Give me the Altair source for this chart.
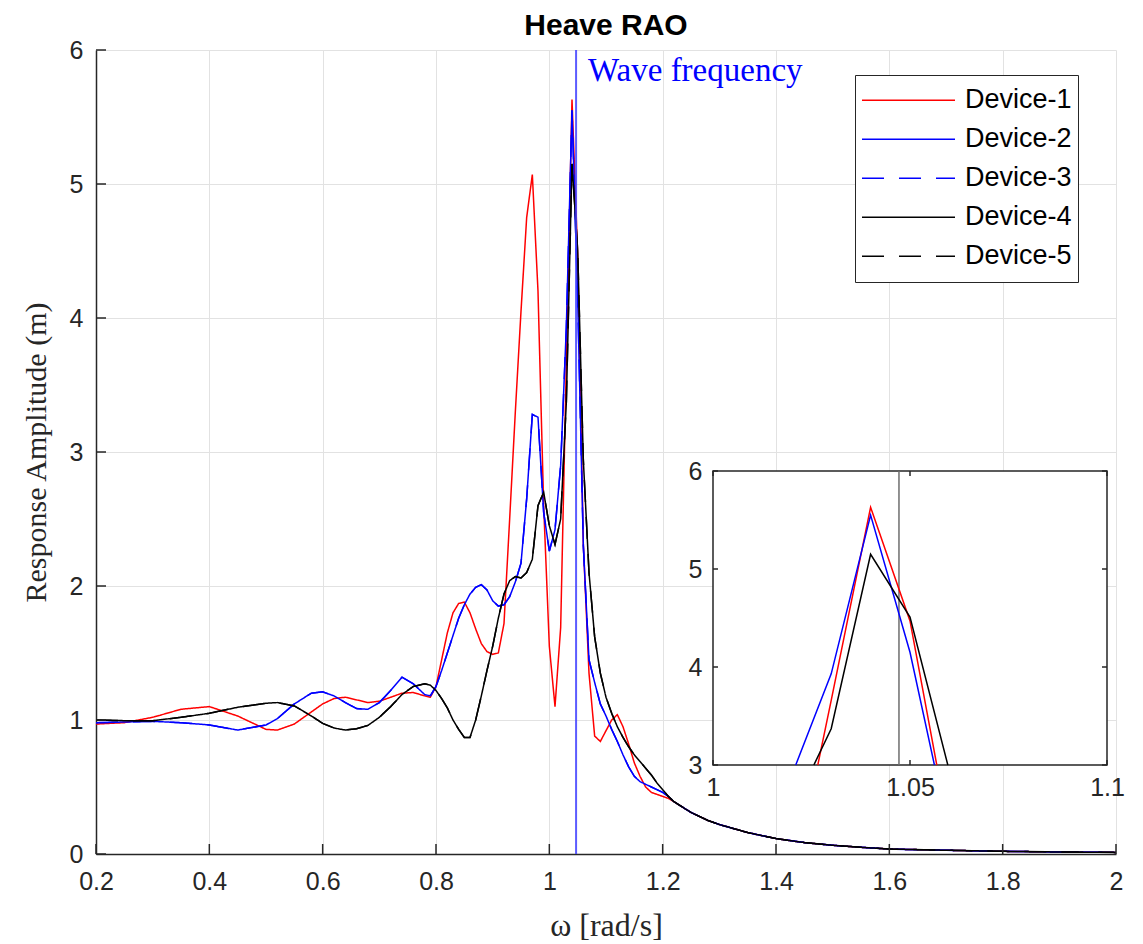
import altair as alt
import pandas as pd

# ---------------- data ----------------
freq = [0.20, 0.25, 0.30, 0.35, 0.40, 0.45, 0.50, 0.52, 0.55, 0.58,
        0.60, 0.62, 0.64, 0.66, 0.68, 0.70, 0.72, 0.74, 0.76, 0.78,
        0.79, 0.80, 0.81, 0.82, 0.83, 0.84, 0.85, 0.86, 0.87, 0.88,
        0.89, 0.90, 0.91, 0.92, 0.93, 0.94, 0.95, 0.96, 0.97, 0.98,
        0.99, 1.00, 1.01, 1.02, 1.03, 1.04, 1.05, 1.06, 1.07, 1.08,
        1.09, 1.10, 1.11, 1.12, 1.13, 1.14, 1.15, 1.16, 1.17, 1.18,
        1.19, 1.20, 1.21, 1.22, 1.25, 1.28, 1.30, 1.35, 1.40, 1.45,
        1.50, 1.55, 1.60, 1.70, 1.80, 1.90, 2.00]

tail = [0.31, 0.25, 0.22, 0.16, 0.115, 0.085, 0.065, 0.05, 0.037, 0.028, 0.02, 0.015, 0.012]

device1 = [0.97, 0.98, 1.02, 1.08, 1.10, 1.03, 0.93, 0.925, 0.97, 1.06,
           1.12, 1.16, 1.17, 1.15, 1.13, 1.14, 1.17, 1.20, 1.205, 1.18,
           1.17, 1.25, 1.45, 1.65, 1.80, 1.87, 1.88, 1.80, 1.68, 1.57,
           1.51, 1.49, 1.50, 1.72, 2.50, 3.30, 4.05, 4.75, 5.07, 4.20,
           2.60, 1.55, 1.10, 1.69, 3.66, 5.63, 4.47, 2.31, 1.35, 0.88,
           0.84, 0.92, 1.00, 1.04, 0.95, 0.82, 0.68, 0.58, 0.50, 0.46,
           0.445, 0.43, 0.415, 0.39] + tail

device2 = [0.98, 0.985, 0.99, 0.98, 0.963, 0.925, 0.963, 1.01, 1.12, 1.20,
           1.21, 1.18, 1.13, 1.085, 1.08, 1.13, 1.22, 1.32, 1.27, 1.19,
           1.18, 1.25, 1.37, 1.50, 1.63, 1.76, 1.86, 1.94, 1.99, 2.01,
           1.97, 1.89, 1.85, 1.86, 1.92, 2.03, 2.17, 2.65, 3.28, 3.26,
           2.55, 2.26, 2.42, 2.90, 3.93, 5.55, 4.15, 2.30, 1.45, 1.28,
           1.12, 1.03, 0.93, 0.84, 0.74, 0.65, 0.58, 0.54, 0.52, 0.50,
           0.48, 0.46, 0.43, 0.39] + tail

device3 = list(device2)   # dashed curve drawn on top of Device-2

device4 = [1.00, 0.995, 0.995, 1.02, 1.05, 1.095, 1.125, 1.13, 1.105, 1.03,
           0.975, 0.94, 0.925, 0.935, 0.96, 1.02, 1.10, 1.19, 1.25, 1.27,
           1.26, 1.22, 1.16, 1.09, 1.00, 0.93, 0.87, 0.87, 1.00, 1.18,
           1.37, 1.55, 1.76, 1.94, 2.04, 2.07, 2.06, 2.10, 2.20, 2.60,
           2.70, 2.45, 2.31, 2.50, 3.37, 5.15, 4.51, 2.94, 2.10, 1.62,
           1.35, 1.17, 1.05, 0.95, 0.87, 0.80, 0.74, 0.69, 0.64, 0.59,
           0.53, 0.48, 0.43, 0.39] + tail

device5 = list(device4)   # dashed curve drawn on top of Device-4

devices = ["Device-1", "Device-2", "Device-3", "Device-4", "Device-5"]
dev_colors = ["#ff0000", "#0000ff", "#0000ff", "#000000", "#000000"]
dev_dash = [[1, 0], [1, 0], [22, 15], [1, 0], [22, 15]]

wave_freq = 1.0472

# inset (zoom of the peak)
inset_x1 = [1.0266, 1.03, 1.04, 1.05, 1.0568]
inset_y1 = [3.0, 3.66, 5.63, 4.47, 3.0]
inset_x2 = [1.021, 1.03, 1.04, 1.05, 1.0562]
inset_y2 = [3.0, 3.93, 5.55, 4.15, 3.0]
inset_x4 = [1.0256, 1.03, 1.04, 1.05, 1.0596]
inset_y4 = [3.0, 3.37, 5.15, 4.51, 3.0]

x_ticks = [0.2, 0.4, 0.6, 0.8, 1.0, 1.2, 1.4, 1.6, 1.8, 2.0]
y_ticks = [0, 1, 2, 3, 4, 5, 6]
inset_x_ticks = [1.0, 1.05, 1.1]
inset_y_ticks = [3, 4, 5, 6]

# ---------------- tables ----------------
rows = []
for name, vals in zip(devices, [device1, device2, device3, device4, device5]):
    for f, v in zip(freq, vals):
        rows.append({"w": f, "amp": v, "device": name})
df = pd.DataFrame(rows)

irows = []
for name, xs, ys in [("Device-1", inset_x1, inset_y1), ("Device-2", inset_x2, inset_y2),
                     ("Device-4", inset_x4, inset_y4)]:
    for a, b in zip(xs, ys):
        irows.append({"w": a, "amp": b, "device": name})
idf = pd.DataFrame(irows)

W, H = 1020, 804
AX = "#262626"
SANS = "Liberation Sans"
SERIF = "Liberation Serif"
LBL = 25

xs_main = alt.Scale(domain=[0.2, 2.0], nice=False, zero=False)
ys_main = alt.Scale(domain=[0, 6], nice=False)

xaxis = alt.Axis(values=x_ticks, format="~g", title="ω [rad/s]", titleFont=SERIF,
                 titleFontSize=32, titleFontWeight="normal", titleColor=AX,
                 labelFont=SANS, labelFontSize=LBL, labelColor=AX, ticks=False,
                 labelFlush=False, labelOverlap=False,
                 domainColor=AX, domainWidth=1.5, gridColor="#e2e2e2", gridWidth=1,
                 labelPadding=15, titlePadding=16)
yaxis = alt.Axis(values=y_ticks, format="~g", title="Response Amplitude (m)", titleFont=SERIF,
                 titleFontSize=30, titleFontWeight="normal", titleColor=AX,
                 labelFont=SANS, labelFontSize=LBL, labelColor=AX, ticks=False,
                 labelFlush=False, labelOverlap=False,
                 domainColor=AX, domainWidth=1.5, gridColor="#e2e2e2", gridWidth=1,
                 labelPadding=13, titlePadding=18)

color_scale = alt.Scale(domain=devices, range=dev_colors)
dash_scale = alt.Scale(domain=devices, range=dev_dash)
legend = alt.Legend(title=None, orient="none", legendX=759, legendY=25,
                    symbolType="stroke", symbolSize=8649, symbolStrokeWidth=1.5,
                    clipHeight=38.5, rowPadding=0, labelFont=SANS, labelFontSize=27,
                    labelColor="black", labelOffset=9, padding=6, strokeColor=AX,
                    fillColor="white")

lines = alt.Chart(df).mark_line(strokeWidth=1.5).encode(
    x=alt.X("w:Q", scale=xs_main, axis=xaxis),
    y=alt.Y("amp:Q", scale=ys_main, axis=yaxis),
    color=alt.Color("device:N", scale=color_scale, legend=legend),
    strokeDash=alt.StrokeDash("device:N", scale=dash_scale, legend=legend),
)

wave_rule = alt.Chart(pd.DataFrame({"w": [wave_freq]})).mark_rule(
    color="#4040ff", strokeWidth=2, opacity=0.85
).encode(x=alt.X("w:Q", scale=xs_main, axis=xaxis))

wave_text = alt.Chart(pd.DataFrame({"w": [wave_freq], "amp": [6], "label": ["Wave frequency"]})).mark_text(
    align="left", baseline="middle", dx=12, dy=21, font=SERIF, fontSize=33, color="#0000ff"
).encode(x=alt.X("w:Q", scale=xs_main, axis=xaxis),
         y=alt.Y("amp:Q", scale=ys_main, axis=yaxis), text="label:N")

xt = alt.Chart(pd.DataFrame({"t": x_ticks, "b": [0] * len(x_ticks)})).mark_rule(
    color=AX, strokeWidth=1.5, y2Offset=-10
).encode(x=alt.X("t:Q", scale=xs_main, axis=xaxis),
         y=alt.Y("b:Q", scale=ys_main, axis=yaxis), y2="b:Q")

yt = alt.Chart(pd.DataFrame({"t": y_ticks, "b": [0.2] * len(y_ticks)})).mark_rule(
    color=AX, strokeWidth=1.5, x2Offset=10
).encode(y=alt.Y("t:Q", scale=ys_main, axis=yaxis),
         x=alt.X("b:Q", scale=xs_main, axis=xaxis), x2="b:Q")

main = alt.layer(lines, wave_rule, wave_text, xt, yt)

# ---------------- inset ----------------
xs_in = alt.Scale(domain=[1.0, 1.1], range=[617, 1011], nice=False, zero=False)
ys_in = alt.Scale(domain=[3, 6], range=[715, 421], nice=False, zero=False)
ix_axis = alt.Axis(orient="bottom", offset=-(H - 715), values=inset_x_ticks, format="~g",
                   labelFont=SANS, labelFontSize=LBL, labelColor=AX, domain=False,
                   labelFlush=False, labelOverlap=False,
                   ticks=False, grid=False, title=None, labelPadding=10)
iy_axis = alt.Axis(orient="left", offset=-617, values=inset_y_ticks, format="~g",
                   labelFont=SANS, labelFontSize=LBL, labelColor=AX, domain=False,
                   labelFlush=False, labelOverlap=False,
                   ticks=False, grid=False, title=None, labelPadding=11)

frame = alt.Chart(pd.DataFrame({"x1": [1.0], "x2": [1.1], "y1": [3], "y2": [6]})).mark_rect(
    fill="white", stroke=AX, strokeWidth=1.5
).encode(x=alt.X("x1:Q", scale=xs_in, axis=ix_axis), x2="x2:Q",
         y=alt.Y("y1:Q", scale=ys_in, axis=iy_axis), y2="y2:Q")

ivline = alt.Chart(pd.DataFrame({"w": [wave_freq], "a": [3], "b": [6]})).mark_rule(
    color="#6e6e6e", strokeWidth=1.5
).encode(x=alt.X("w:Q", scale=xs_in, axis=ix_axis),
         y=alt.Y("a:Q", scale=ys_in, axis=iy_axis), y2="b:Q")

ilines = alt.Chart(idf).mark_line(strokeWidth=1.5).encode(
    x=alt.X("w:Q", scale=xs_in, axis=ix_axis),
    y=alt.Y("amp:Q", scale=ys_in, axis=iy_axis),
    color=alt.Color("device:N", scale=color_scale, legend=legend),
)

ib = alt.Chart(pd.DataFrame({"t": inset_x_ticks, "b": [3] * 3})).mark_rule(
    color=AX, strokeWidth=1.5, y2Offset=-5
).encode(x=alt.X("t:Q", scale=xs_in, axis=ix_axis), y=alt.Y("b:Q", scale=ys_in, axis=iy_axis), y2="b:Q")
itp = alt.Chart(pd.DataFrame({"t": inset_x_ticks, "b": [6] * 3})).mark_rule(
    color=AX, strokeWidth=1.5, y2Offset=5
).encode(x=alt.X("t:Q", scale=xs_in, axis=ix_axis), y=alt.Y("b:Q", scale=ys_in, axis=iy_axis), y2="b:Q")
il = alt.Chart(pd.DataFrame({"t": inset_y_ticks, "b": [1.0] * 4})).mark_rule(
    color=AX, strokeWidth=1.5, x2Offset=5
).encode(y=alt.Y("t:Q", scale=ys_in, axis=iy_axis), x=alt.X("b:Q", scale=xs_in, axis=ix_axis), x2="b:Q")
ir = alt.Chart(pd.DataFrame({"t": inset_y_ticks, "b": [1.1] * 4})).mark_rule(
    color=AX, strokeWidth=1.5, x2Offset=-5
).encode(y=alt.Y("t:Q", scale=ys_in, axis=iy_axis), x=alt.X("b:Q", scale=xs_in, axis=ix_axis), x2="b:Q")

inset = alt.layer(frame, ivline, ilines, ib, itp, il, ir)

chart = alt.layer(main, inset).resolve_scale(x="independent", y="independent").properties(
    width=W, height=H,
    title=alt.TitleParams("Heave RAO", font=SANS, fontSize=30, fontWeight="bold",
                          color="black", anchor="middle", frame="group", offset=14, dy=17),
    padding={"left": 96, "top": 50, "right": 27, "bottom": 90},
    autosize=alt.AutoSizeParams(type="none"),
).configure_view(stroke=None)

chart.save("out.html", embed_options={"renderer": "svg", "actions": False})
